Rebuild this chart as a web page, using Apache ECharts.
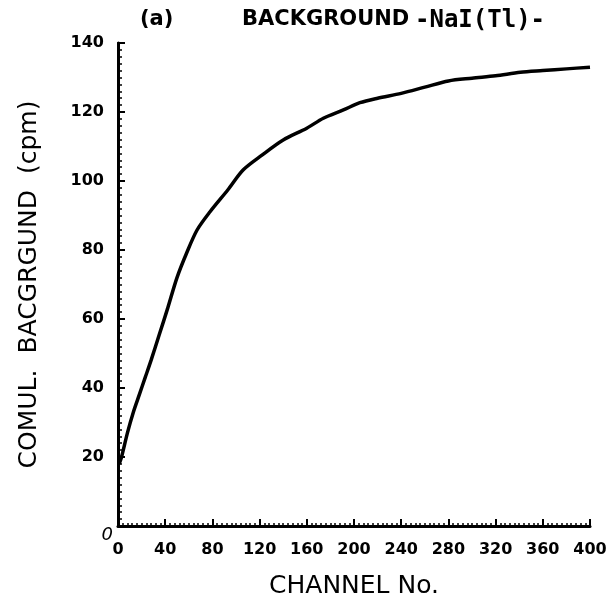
<!DOCTYPE html>
<html>
<head>
<meta charset="utf-8">
<script src="https://cdn.jsdelivr.net/npm/echarts@6/dist/echarts.min.js"></script>
<style>html,body{margin:0;padding:0;background:#fff}#c{width:612px;height:607px}</style>
</head>
<body>
<div id="c"></div>
<script>
var channels = [1, 3, 8, 13, 18, 23, 28, 35, 42, 50, 58, 67, 78, 93, 106, 122, 140, 160, 174, 191, 205, 220, 240, 260, 280, 300, 320, 341, 360, 380, 400];
var background = [18, 20, 27, 33, 38, 43, 48, 55.5, 63, 72, 79, 85.8, 91.1, 97.4, 103.2, 107.5, 111.9, 115.3, 118.2, 120.6, 122.7, 124, 125.4, 127.2, 129, 129.8, 130.5, 131.5, 132, 132.5, 133];
var xTicks = [0, 40, 80, 120, 160, 200, 240, 280, 320, 360, 400];
var yTicks = [0, 20, 40, 60, 80, 100, 120, 140];
var titlePanel = '(a)';
var titleText = 'BACKGROUND';
var titleDetector = '-NaI(Tl)-';
var xName = 'CHANNEL No.';
var yName = 'COMUL.  BACGRGUND  (cpm)';

var chart = echarts.init(document.getElementById('c'));
var data = channels.map(function (c, i) { return [c, background[i]]; });
var font = '"DejaVu Sans", "Liberation Sans", sans-serif';
var titleStyle = { fontFamily: font, fontSize: 21, fontWeight: 'bold', color: '#000' };
chart.setOption({
  animation: false,
  backgroundColor: '#fff',
  title: [
    { text: titlePanel, left: 135, top: 4, textStyle: titleStyle },
    { text: titleText, left: 237, top: 4, textStyle: titleStyle },
    { text: titleDetector, left: 410, top: 4, textStyle: { fontFamily: '"DejaVu Sans Mono", monospace', fontSize: 24, fontWeight: 'bold', color: '#000' } }
  ],
  grid: { left: 118, right: 22, top: 43, bottom: 81 },
  xAxis: [{
    type: 'value', min: 0, max: 400, interval: 40,
    name: xName, nameLocation: 'middle', nameGap: 48,
    nameTextStyle: { fontFamily: font, fontSize: 25, color: '#000' },
    axisLine: { show: true, onZero: false, lineStyle: { color: '#000', width: 3 } },
    axisTick: { show: true, inside: true, length: 7, lineStyle: { color: '#000', width: 2 } },
    minorTick: { show: true, splitNumber: 10, length: 3, lineStyle: { color: '#000', width: 1.5 } },
    axisLabel: {
      margin: 16, fontFamily: font, fontSize: 16, fontWeight: 'bold', color: '#000',
      formatter: function (v) { return xTicks.indexOf(v) >= 0 ? String(v) : ''; }
    },
    splitLine: { show: false }
  }, {
    type: 'value', min: 0, max: 400, position: 'top',
    axisLine: { show: true, lineStyle: { color: '#000', width: 2 } },
    axisTick: { show: false }, axisLabel: { show: false }, splitLine: { show: false }
  }],
  yAxis: [{
    type: 'value', min: 0, max: 140, interval: 20,
    name: yName, nameLocation: 'middle', nameGap: 76, nameRotate: 90,
    nameTextStyle: { fontFamily: font, fontSize: 25, color: '#000' },
    axisLine: { show: true, onZero: false, lineStyle: { color: '#000', width: 3 } },
    axisTick: { show: true, inside: true, length: 7, lineStyle: { color: '#000', width: 2 } },
    minorTick: { show: true, splitNumber: 10, length: 4, lineStyle: { color: '#000', width: 1.5 } },
    axisLabel: {
      margin: 14, fontFamily: font, fontSize: 16, fontWeight: 'bold', color: '#000',
      formatter: function (v) { return (v === 0 || yTicks.indexOf(v) < 0) ? '' : String(v); }
    },
    splitLine: { show: false }
  }, {
    type: 'value', min: 0, max: 140, position: 'right',
    axisLine: { show: true, lineStyle: { color: '#000', width: 2 } },
    axisTick: { show: false }, axisLabel: { show: false }, splitLine: { show: false }
  }, {
    type: 'value', min: 0, max: 140, interval: 20, position: 'left',
    axisLine: { show: false }, axisTick: { show: false }, splitLine: { show: false },
    axisLabel: {
      margin: 5, fontFamily: font, fontSize: 18, fontStyle: 'italic', color: '#000',
      verticalAlign: 'top',
      formatter: function (v) { return v === 0 ? '0' : ''; }
    }
  }],
  series: [{
    type: 'line', data: data, showSymbol: false, smooth: 0.3,
    lineStyle: { color: '#000', width: 3.5 }
  }]
});
</script>
</body>
</html>
